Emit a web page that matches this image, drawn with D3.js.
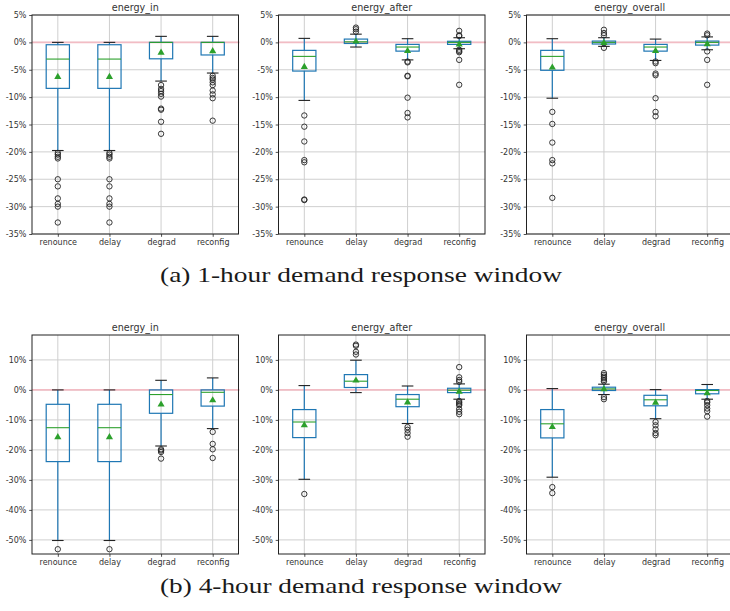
<!DOCTYPE html>
<html>
<head>
<meta charset="utf-8">
<script src="https://cdn.jsdelivr.net/npm/d3@7"></script>
<style>
  body { margin: 0; background: #fff; }
  svg { display: block; }
  .caption { font-family: "Liberation Serif", "Times New Roman", serif; }
</style>
</head>
<body>
<svg id="fig" width="730" height="611"></svg>
<script>
// ---- data ----------------------------------------------------------------
const categories = ["renounce", "delay", "degrad", "reconfig"];
const metrics = ["energy_in", "energy_after", "energy_overall"];
const captions = ["(a) 1-hour demand response window", "(b) 4-hour demand response window"];
const ticksOneHour = [5, 0, -5, -10, -15, -20, -25, -30, -35];
const ticksFourHour = [10, 0, -10, -20, -30, -40, -50];

// box summaries per category: [lowWhisker, q1, median, q3, highWhisker, mean] in %
const h1EnergyIn = [
  [-19.75, -8.4, -3.05, -0.43, 0, -6.2],
  [-19.75, -8.4, -3.05, -0.43, 0, -6.2],
  [-7.07, -3.0, 0, 0, 1.1, -1.8],
  [-5.6, -2.3, 0, 0, 1.1, -1.5]
];
const h1EnergyInFliers = [
  [-20.2, -20.5, -20.9, -21.2, -25.0, -26.3, -28.5, -29.5, -30.0, -32.9],
  [-20.2, -20.5, -20.9, -21.2, -25.0, -26.3, -28.5, -29.5, -30.0, -32.9],
  [-7.8, -8.5, -8.9, -9.4, -9.9, -12.1, -12.3, -14.5, -16.7],
  [-6.1, -6.5, -6.8, -7.3, -7.8, -8.8, -9.5, -10.2, -14.3]
];
const h1EnergyAfter = [
  [-10.6, -5.24, -2.56, -1.46, 0.73, -4.4],
  [-0.85, -0.2, 0.1, 0.6, 1.5, 0.24],
  [-3.2, -1.6, -0.85, -0.37, 0.67, -1.46],
  [-1.16, -0.37, 0, 0.2, 0.85, -0.3]
];
const h1EnergyAfterFliers = [
  [-13.35, -15.4, -18.1, -21.5, -21.9, -28.7, -28.8],
  [1.95, 2.4, 2.7],
  [-3.5, -3.65, -6.1, -6.2, -10.1, -12.9, -13.7],
  [2.1, 1.3, 1.15, -1.35, -1.6, -1.8, -3.2, -7.75]
];
const h1EnergyOverall = [
  [-10.2, -5.1, -2.56, -1.46, 0.67, -4.5],
  [-0.73, -0.3, 0, 0.24, 0.85, 0],
  [-3.3, -1.6, -0.85, -0.37, 0.6, -1.46],
  [-1.35, -0.5, 0, 0.24, 1.0, -0.24]
];
const h1EnergyOverallFliers = [
  [-12.7, -14.9, -18.3, -21.5, -22.1, -28.4],
  [2.3, 1.7, 1.3, -1.0],
  [-3.5, -3.8, -5.7, -6.0, -10.2, -12.7, -13.5],
  [1.6, 1.3, -1.65, -3.2, -7.75]
];

const h4EnergyIn = [
  [-50.2, -23.9, -12.6, -4.8, 0, -15.6],
  [-50.2, -23.9, -12.6, -4.8, 0, -15.6],
  [-18.7, -7.8, -1.55, 0, 3.2, -4.7],
  [-12.9, -5.4, -0.8, 0, 4.0, -3.3]
];
const h4EnergyInFliers = [
  [-53.1],
  [-53.1],
  [-19.8, -20.2, -20.7, -22.9],
  [-14.0, -18.0, -19.8, -22.7]
];
const h4EnergyAfter = [
  [-29.8, -15.9, -10.7, -6.56, 1.44, -11.6],
  [-0.9, 0.8, 2.9, 5.1, 9.9, 3.3],
  [-11.2, -5.6, -3.1, -1.55, 1.3, -4.0],
  [-3.1, -0.9, -0.1, 0.55, 2.0, -0.4]
];
const h4EnergyAfterFliers = [
  [-34.7],
  [15.1, 14.7, 12.7, 11.8],
  [-12.4, -13.3, -14.4, -15.6],
  [7.6, 4.2, 3.3, 2.7, -3.7, -4.2, -4.7, -5.1, -6.4, -7.3, -8.1]
];
const h4EnergyOverall = [
  [-29.1, -16.0, -11.3, -6.56, 0.44, -12.2],
  [-1.55, -0.2, 0.33, 0.9, 1.9, 0.44],
  [-9.6, -5.3, -3.3, -1.8, 0.1, -4.1],
  [-3.1, -1.3, -0.2, 0.1, 1.8, -0.9]
];
const h4EnergyOverallFliers = [
  [-32.4, -34.4],
  [5.6, 5.0, 4.4, 3.9, 3.3, 2.8, -2.4, -3.1],
  [-10.7, -11.8, -13.1, -14.4, -15.1],
  [-3.7, -4.2, -5.1, -6.2, -7.1, -8.9]
];

// ---- layout ----------------------------------------------------------------
const svg = d3.select("#fig");
const panelLefts = [32, 278.5, 526.5];
const panelW = 206.5, panelH = 219;

const rows = [
  { top: 15, domain: [-35, 5], ticks: ticksOneHour, caption: captions[0], captionY: 282,
    stats: [h1EnergyIn, h1EnergyAfter, h1EnergyOverall],
    fliers: [h1EnergyInFliers, h1EnergyAfterFliers, h1EnergyOverallFliers] },
  { top: 335, domain: [-54.7, 18.3], ticks: ticksFourHour, caption: captions[1], captionY: 593,
    stats: [h4EnergyIn, h4EnergyAfter, h4EnergyOverall],
    fliers: [h4EnergyInFliers, h4EnergyAfterFliers, h4EnergyOverallFliers] }
];

const BLUE = "#1f77b4", GREEN = "#2ca02c", INK = "#222";
const font = "DejaVu Sans, sans-serif";

rows.forEach(row => {
  metrics.forEach((metric, mi) => {
    const g = svg.append("g").attr("transform", `translate(${panelLefts[mi]},${row.top})`);
    const x = d3.scalePoint().domain(categories).range([0, panelW]).padding(0.5);
    const y = d3.scaleLinear().domain(row.domain).range([panelH, 0]);
    const step = x.step();
    const boxW = 0.45 * step, capW = boxW / 2;

    // grid
    g.append("g").selectAll("line").data(row.ticks).join("line")
      .attr("x1", 0).attr("x2", panelW)
      .attr("y1", d => y(d)).attr("y2", d => y(d))
      .attr("stroke", "#cfcfcf").attr("stroke-width", 1);
    g.append("g").selectAll("line").data(categories).join("line")
      .attr("x1", d => x(d)).attr("x2", d => x(d))
      .attr("y1", 0).attr("y2", panelH)
      .attr("stroke", "#cfcfcf").attr("stroke-width", 1);

    // zero reference
    g.append("line")
      .attr("x1", 0).attr("x2", panelW + 1)
      .attr("y1", y(0)).attr("y2", y(0))
      .attr("stroke", "#f2bcc4").attr("stroke-width", 1.6);

    const stats = row.stats[mi];
    const fl = row.fliers[mi];

    categories.forEach((c, ci) => {
      const [lo, q1, med, q3, hi, mean] = stats[ci];
      const cx = x(c);
      const bg = g.append("g");
      // whiskers
      bg.append("line").attr("x1", cx).attr("x2", cx).attr("y1", y(q1)).attr("y2", y(lo))
        .attr("stroke", BLUE).attr("stroke-width", 1.2);
      bg.append("line").attr("x1", cx).attr("x2", cx).attr("y1", y(q3)).attr("y2", y(hi))
        .attr("stroke", BLUE).attr("stroke-width", 1.2);
      // caps
      [lo, hi].forEach(v => {
        bg.append("line").attr("x1", cx - capW / 2).attr("x2", cx + capW / 2)
          .attr("y1", y(v)).attr("y2", y(v))
          .attr("stroke", INK).attr("stroke-width", 1.1);
      });
      // box
      bg.append("rect")
        .attr("x", cx - boxW / 2).attr("width", boxW)
        .attr("y", y(q3)).attr("height", Math.max(0.01, y(q1) - y(q3)))
        .attr("fill", "none").attr("stroke", BLUE).attr("stroke-width", 1.2);
      // median
      bg.append("line").attr("x1", cx - boxW / 2).attr("x2", cx + boxW / 2)
        .attr("y1", y(med)).attr("y2", y(med))
        .attr("stroke", GREEN).attr("stroke-width", 1.1);
      // fliers
      bg.selectAll("circle").data(fl[ci]).join("circle")
        .attr("cx", cx).attr("cy", d => y(d)).attr("r", 2.7)
        .attr("fill", "none").attr("stroke", INK).attr("stroke-width", 0.9);
      // mean
      bg.append("path")
        .attr("d", d3.symbol(d3.symbolTriangle, 22)())
        .attr("transform", `translate(${cx},${y(mean) + 0.5})`)
        .attr("fill", GREEN);
    });

    // axes
    const yAxis = d3.axisLeft(y).tickValues(row.ticks).tickFormat(d => d + "%")
      .tickSize(2.8).tickPadding(2.8);
    const ya = g.append("g").call(yAxis);
    const xAxis = d3.axisBottom(x).tickSize(2.8).tickPadding(2.8);
    const xa = g.append("g").attr("transform", `translate(0,${panelH})`).call(xAxis);
    [ya, xa].forEach(a => {
      a.select(".domain").remove();
      a.selectAll(".tick line").attr("stroke", INK).attr("stroke-width", 0.8);
      a.selectAll(".tick text").attr("fill", "#333").attr("font-family", font).attr("font-size", 8);
    });

    // spines
    g.append("rect").attr("x", 0).attr("y", 0).attr("width", panelW).attr("height", panelH)
      .attr("fill", "none").attr("stroke", INK).attr("stroke-width", 1);

    // title
    g.append("text").attr("x", panelW / 2).attr("y", -4.5)
      .attr("text-anchor", "middle").attr("font-family", font).attr("font-size", 9.6)
      .attr("fill", "#333").text(metric);
  });

  svg.append("text")
    .attr("class", "caption")
    .attr("x", 361).attr("y", row.captionY)
    .attr("text-anchor", "middle")
    .attr("font-size", 22)
    .attr("textLength", 402).attr("lengthAdjust", "spacingAndGlyphs")
    .attr("fill", "#1a1a1a").text(row.caption);
});
</script>
</body>
</html>
